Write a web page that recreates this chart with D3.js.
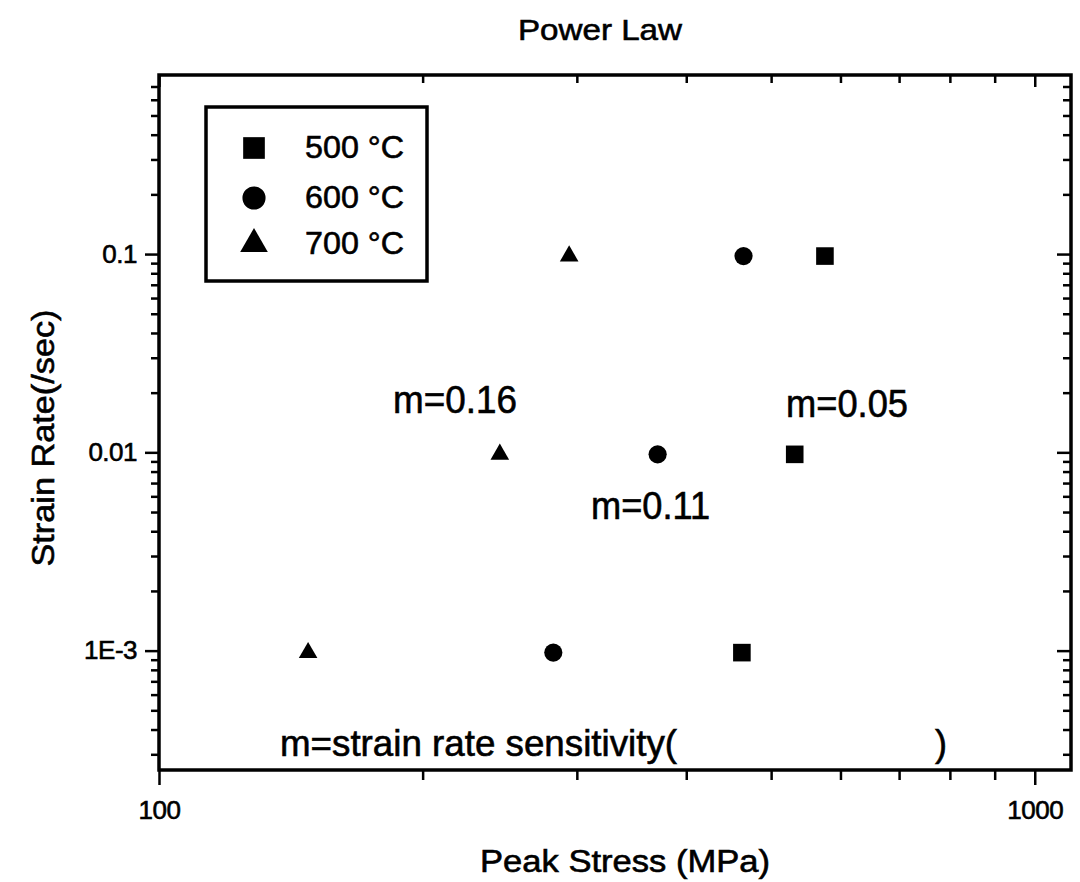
<!DOCTYPE html>
<html>
<head>
<meta charset="utf-8">
<script src="https://cdn.jsdelivr.net/npm/d3@7"></script>
<style>
  html, body { margin: 0; padding: 0; background: #fff; }
  svg { display: block; font-family: 'Liberation Sans', Arial, sans-serif; }
  svg text { stroke: #000; stroke-width: 0.6px; fill: #000; }
</style>
</head>
<body>
<svg id="chart" width="1080" height="882"></svg>
<script>
// ---- data ----
const seriesNames = ["500 °C", "600 °C", "700 °C"];
const strainRates = [0.1, 0.01, 0.001];
const stress500 = [576, 532, 463];
const stress600 = [465, 371, 282];
const stress700 = [294, 245, 148];
const xTickLabels = ["100", "1000"];
const xTickValues = [100, 1000];
const yTickLabels = ["1E-3", "0.01", "0.1"];
const yTickValues = [0.001, 0.01, 0.1];
const annotations = ["m=0.16", "m=0.11", "m=0.05"];

(function () {
const svg = d3.select("#chart");
const pL = 159, pR = 1071, pT = 75, pB = 770;

const x = d3.scaleLog().domain([100, 1100]).range([pL, pR]);
const y = d3.scaleLog().domain([2.5e-4, 0.8]).range([pB, pT]);

// minor tick values
const xMinor = [];
for (let d = 100; d <= 1000; d *= 10) for (let k = 2; k <= 9; k++) if (k * d < 1100) xMinor.push(k * d);
const yMinor = [];
for (let d = 1e-4; d <= 0.1; d *= 10) for (let k = 1; k <= 9; k++) { const v = +(k * d).toPrecision(3); if (v > 2.5e-4 && v < 0.8 && !yTickValues.includes(v)) yMinor.push(v); }

function styleAxis(g) {
  g.select(".domain").remove();
  g.selectAll("line").attr("stroke", "#000").attr("stroke-width", 2.5);
}

// bottom axis
svg.append("g").attr("transform", `translate(0,${pB})`)
  .call(d3.axisBottom(x).tickValues(xMinor).tickSize(10).tickFormat(""))
  .call(styleAxis);
svg.append("g").attr("transform", `translate(0,${pB})`)
  .call(d3.axisBottom(x).tickValues(xTickValues).tickSize(15)
        .tickFormat((d, i) => xTickLabels[i]).tickPadding(16))
  .call(styleAxis)
  .call(g => g.selectAll("text").attr("font-size", 26).attr("letter-spacing", -0.5));
// top axis (inward)
svg.append("g").attr("transform", `translate(0,${pT})`)
  .call(d3.axisBottom(x).tickValues(xMinor).tickSize(8).tickFormat(""))
  .call(styleAxis);
svg.append("g").attr("transform", `translate(0,${pT})`)
  .call(d3.axisBottom(x).tickValues(xTickValues).tickSize(12).tickFormat(""))
  .call(styleAxis);
// left axis
svg.append("g").attr("transform", `translate(${pL},0)`)
  .call(d3.axisLeft(y).tickValues(yMinor).tickSize(8).tickFormat(""))
  .call(styleAxis);
svg.append("g").attr("transform", `translate(${pL},0)`)
  .call(d3.axisLeft(y).tickValues(yTickValues).tickSize(14)
        .tickFormat(d => yTickLabels[yTickValues.indexOf(d)]).tickPadding(8))
  .call(styleAxis)
  .call(g => g.selectAll("text").attr("font-size", 26).attr("letter-spacing", -0.5));
// right axis (inward)
svg.append("g").attr("transform", `translate(${pR},0)`)
  .call(d3.axisLeft(y).tickValues(yMinor).tickSize(8).tickFormat(""))
  .call(styleAxis);
svg.append("g").attr("transform", `translate(${pR},0)`)
  .call(d3.axisLeft(y).tickValues(yTickValues).tickSize(14).tickFormat(""))
  .call(styleAxis);

// frame
svg.append("rect").attr("x", pL).attr("y", pT)
  .attr("width", pR - pL).attr("height", pB - pT)
  .attr("fill", "none").attr("stroke", "#000").attr("stroke-width", 3.5);

// points
const series = [
  { name: seriesNames[0], stress: stress500, sym: d3.symbolSquare, size: 310 },
  { name: seriesNames[1], stress: stress600, sym: d3.symbolCircle, size: 260 },
  { name: seriesNames[2], stress: stress700, sym: d3.symbolTriangle, size: 150 }
];
series.forEach(s => {
  svg.append("g").selectAll("path").data(s.stress).join("path")
    .attr("d", d3.symbol().type(s.sym).size(s.size))
    .attr("transform", (d, i) => `translate(${x(d)},${y(strainRates[i]) + 2})`)
    .attr("fill", "#000");
});

// legend
const lg = svg.append("g");
lg.append("rect").attr("x", 206).attr("y", 107).attr("width", 221).attr("height", 174)
  .attr("fill", "#fff").attr("stroke", "#000").attr("stroke-width", 3.5);
const legY = [148, 198, 244];
const legSize = [470, 420, 330];
series.forEach((s, i) => {
  lg.append("path").attr("d", d3.symbol().type(s.sym).size(legSize[i]))
    .attr("transform", `translate(254,${legY[i]})`).attr("fill", "#000");
  lg.append("text").attr("x", 305).attr("y", legY[i] + 10)
    .attr("font-size", 32).attr("textLength", 99).attr("lengthAdjust", "spacingAndGlyphs")
    .text(s.name);
});

// annotations
const annPos = [[393, 413, 124], [591, 519, 119], [786, 417, 122]];
annotations.forEach((t, i) => {
  svg.append("text").attr("x", annPos[i][0]).attr("y", annPos[i][1])
    .attr("font-size", 38).attr("textLength", annPos[i][2]).attr("lengthAdjust", "spacingAndGlyphs")
    .text(t);
});
svg.append("text").attr("x", 280).attr("y", 756)
  .attr("font-size", 36).attr("textLength", 397).attr("lengthAdjust", "spacingAndGlyphs")
  .text("m=strain rate sensitivity(");
svg.append("text").attr("x", 935).attr("y", 756)
  .attr("font-size", 36).text(")");

// titles
svg.append("text").attr("x", 600).attr("y", 40).attr("text-anchor", "middle")
  .attr("font-size", 30).attr("textLength", 164).attr("lengthAdjust", "spacingAndGlyphs")
  .text("Power Law");
svg.append("text").attr("x", 625).attr("y", 872).attr("text-anchor", "middle")
  .attr("font-size", 31).attr("textLength", 290).attr("lengthAdjust", "spacingAndGlyphs")
  .text("Peak Stress (MPa)");
svg.append("text").attr("transform", "translate(54,438) rotate(-90)").attr("text-anchor", "middle")
  .attr("font-size", 31).attr("textLength", 257).attr("lengthAdjust", "spacingAndGlyphs")
  .text("Strain Rate(/sec)");
})();
</script>
</body>
</html>
